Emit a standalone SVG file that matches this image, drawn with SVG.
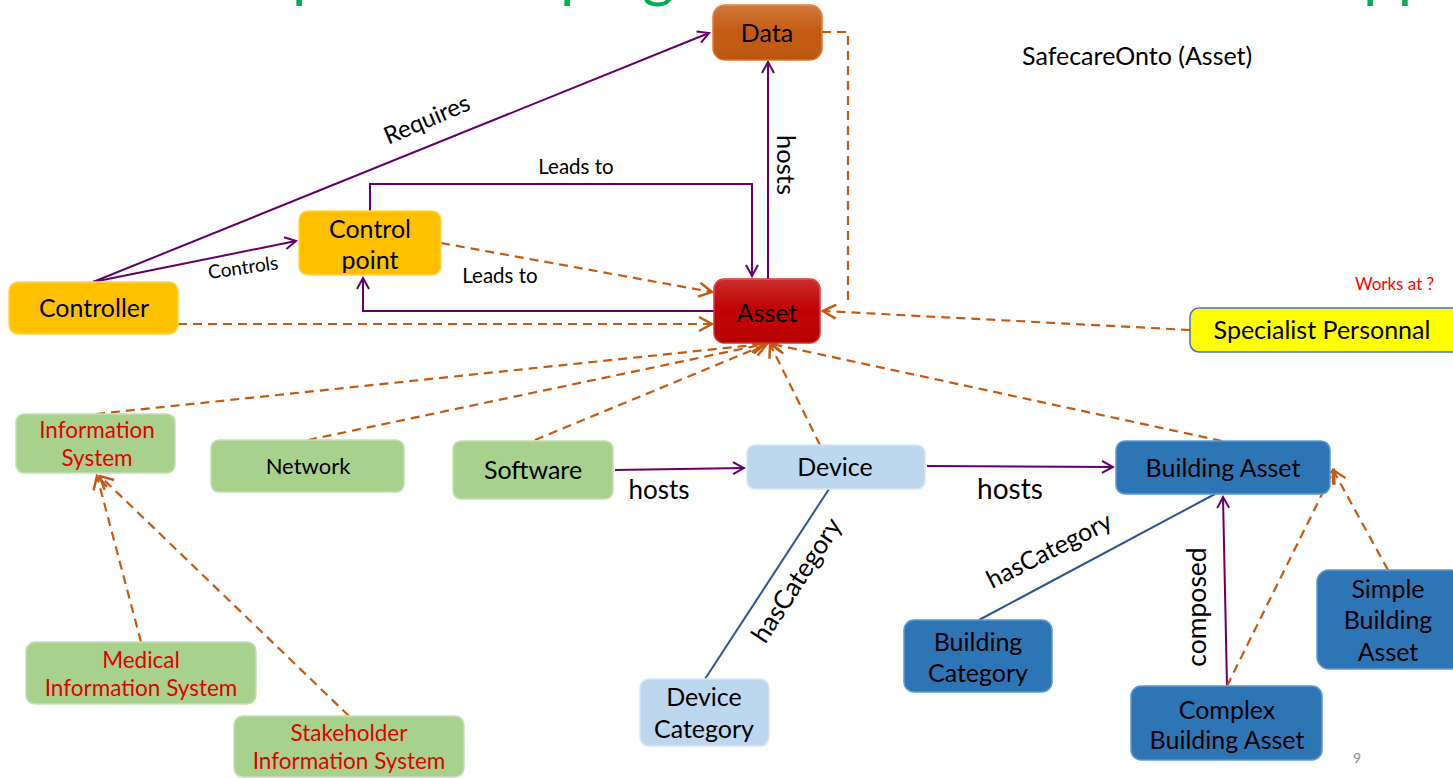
<svg xmlns="http://www.w3.org/2000/svg" width="1453" height="778" viewBox="0 0 1453 778">
  <defs>
    <marker id="arrPurple" markerWidth="14" markerHeight="14" refX="12" refY="7" orient="auto" markerUnits="userSpaceOnUse">
      <path d="M1,1 L12,7 L1,13" fill="none" stroke="#660066" stroke-width="2"/>
    </marker>
    <marker id="arrOrange" markerWidth="16" markerHeight="16" refX="14" refY="8" orient="auto" markerUnits="userSpaceOnUse">
      <path d="M1,1 L14,8 L1,15" fill="none" stroke="#C55A11" stroke-width="2.5"/>
    </marker>
    <linearGradient id="gloss" x1="0" y1="0" x2="0" y2="1">
      <stop offset="0" stop-color="#ffffff" stop-opacity="0.18"/>
      <stop offset="0.5" stop-color="#ffffff" stop-opacity="0"/>
      <stop offset="1" stop-color="#000000" stop-opacity="0.06"/>
    </linearGradient>
  </defs>
  <style>
    text { font-family: Lato, "Liberation Sans", sans-serif; }
    .node text { text-anchor: middle; font-size: 25px; fill: #000; }
    .red text { fill: #E00000; font-size: 22.5px; }
    .gold { fill: #FFC000; stroke: #FFD54F; stroke-width: 1.5; }
    .green { fill: #A9D18E; stroke: #C5E0B4; stroke-width: 1.5; }
    .lblue { fill: #BDD7EE; stroke: #D6E6F5; stroke-width: 1.5; }
    .blue { fill: #2E75B6; stroke: #5B9BD5; stroke-width: 1.5; }
    .purple { fill: none; stroke: #660066; stroke-width: 2; }
    .dash { fill: none; stroke: #C55A11; stroke-width: 2.2; stroke-dasharray: 9 6; }
    .cat { fill: none; stroke: #2F5597; stroke-width: 2; }
    .lbl { fill: #000; text-anchor: middle; }
  </style>

  <!-- title descenders at the top edge -->
  <g id="title" fill="#00B050" font-family="Liberation Serif, serif" font-size="62">
    <text x="292" y="-5">p</text>
    <text x="560" y="-5">p</text>
    <text x="642" y="-5">g</text>
    <text x="1363" y="-5">pp</text>
  </g>

  <!-- connectors -->
  <g id="connectors">
    <!-- purple relations -->
    <path class="purple" d="M93,282 L709,33" marker-end="url(#arrPurple)"/>
    <path class="purple" d="M93,282 L296,241" marker-end="url(#arrPurple)"/>
    <path class="purple" d="M370,211 L370,184 L752,184 L752,276" marker-end="url(#arrPurple)"/>
    <path class="purple" d="M768,279 L768,62" marker-end="url(#arrPurple)"/>
    <path class="purple" d="M714,311 L363,311 L363,278" marker-end="url(#arrPurple)"/>
    <path class="purple" d="M615,470 L744,468" marker-end="url(#arrPurple)"/>
    <path class="purple" d="M927,466 L1113,467" marker-end="url(#arrPurple)"/>
    <path class="purple" d="M1227,686 L1223,497" marker-end="url(#arrPurple)"/>

    <!-- category links -->
    <path class="cat" d="M829,489 L705,679"/>
    <path class="cat" d="M979,620 L1215,494"/>

    <!-- dashed subclass / association links -->
    <path class="dash" d="M822,32 L848,32 L848,306"/>
    <path class="dash" d="M1190,330 L823,311" marker-end="url(#arrOrange)"/>
    <path class="dash" d="M441,243 L712,292" marker-end="url(#arrOrange)"/>
    <path class="dash" d="M178,324 L712,324" marker-end="url(#arrOrange)"/>
    <path class="dash" d="M96,414 L764,344" marker-end="url(#arrOrange)"/>
    <path class="dash" d="M308,440 L765,344" marker-end="url(#arrOrange)"/>
    <path class="dash" d="M535,440 L767,344" marker-end="url(#arrOrange)"/>
    <path class="dash" d="M820,445 L770,344" marker-end="url(#arrOrange)"/>
    <path class="dash" d="M1222,441 L772,344" marker-end="url(#arrOrange)"/>
    <path class="dash" d="M141,642 L97,476" marker-end="url(#arrOrange)"/>
    <path class="dash" d="M349,716 L100,476" marker-end="url(#arrOrange)"/>
    <path class="dash" d="M1227,686 L1334,470" marker-end="url(#arrOrange)"/>
    <path class="dash" d="M1388,570 L1333,470" marker-end="url(#arrOrange)"/>

    <!-- connector labels -->
    <text class="lbl" transform="translate(430,127) rotate(-23)" font-size="24">Requires</text>
    <text class="lbl" transform="translate(244,274) rotate(-8)" font-size="19">Controls</text>
    <text class="lbl" x="576" y="174" font-size="20.5">Leads to</text>
    <text class="lbl" x="500" y="283" font-size="20.5">Leads to</text>
    <text class="lbl" transform="translate(777,165) rotate(90)" font-size="25.5">hosts</text>
    <text class="lbl" x="659" y="499" font-size="26">hosts</text>
    <text class="lbl" x="1010" y="499" font-size="28">hosts</text>
    <text class="lbl" transform="translate(804,585) rotate(-57)" font-size="26">hasCategory</text>
    <text class="lbl" transform="translate(1053,558) rotate(-27)" font-size="25">hasCategory</text>
    <text class="lbl" transform="translate(1206,607) rotate(-90)" font-size="26.5">composed</text>
  </g>

  <!-- nodes -->
  <g id="data" class="node">
    <rect x="713" y="5" width="109" height="55" rx="12" fill="#C55A11" stroke="#E07A30" stroke-width="1.5"/>
    <rect x="713" y="5" width="109" height="55" rx="12" fill="url(#gloss)"/>
    <text x="767" y="42">Data</text>
  </g>
  <g id="control-point" class="node">
    <rect class="gold" x="299" y="211" width="142" height="64" rx="9"/>
    <text x="370" y="238">Control</text>
    <text x="370" y="269">point</text>
  </g>
  <g id="controller" class="node">
    <rect class="gold" x="9" y="282" width="169" height="52" rx="9"/>
    <text x="94" y="317">Controller</text>
  </g>
  <g id="asset" class="node">
    <rect x="714" y="279" width="106" height="64" rx="10" fill="#C00000" stroke="#E03030" stroke-width="1.5"/>
    <rect x="714" y="279" width="106" height="64" rx="10" fill="url(#gloss)"/>
    <text x="767" y="322">Asset</text>
  </g>
  <g id="specialist-personnal" class="node">
    <rect x="1190" y="308" width="270" height="44" rx="9" fill="#FFFF00" stroke="#4472C4" stroke-width="1.5"/>
    <text x="1322" y="339">Specialist Personnal</text>
  </g>
  <g id="information-system" class="node red">
    <rect class="green" x="16" y="414" width="159" height="59" rx="8"/>
    <text x="97" y="438">Information</text>
    <text x="97" y="466">System</text>
  </g>
  <g id="network" class="node">
    <rect class="green" x="211" y="440" width="193" height="52" rx="8"/>
    <text x="308" y="474" style="font-size:22px">Network</text>
  </g>
  <g id="software" class="node">
    <rect class="green" x="453" y="441" width="160" height="58" rx="8"/>
    <text x="533" y="479">Software</text>
  </g>
  <g id="device" class="node">
    <rect class="lblue" x="747" y="445" width="178" height="44" rx="8"/>
    <text x="835" y="476">Device</text>
  </g>
  <g id="building-asset" class="node">
    <rect class="blue" x="1116" y="441" width="214" height="53" rx="9"/>
    <text x="1223" y="477">Building Asset</text>
  </g>
  <g id="device-category" class="node">
    <rect class="lblue" x="640" y="679" width="129" height="67" rx="9"/>
    <text x="704" y="706">Device</text>
    <text x="704" y="738">Category</text>
  </g>
  <g id="building-category" class="node">
    <rect class="blue" x="904" y="620" width="148" height="72" rx="10"/>
    <text x="978" y="651">Building</text>
    <text x="978" y="682">Category</text>
  </g>
  <g id="complex-building-asset" class="node">
    <rect class="blue" x="1131" y="686" width="191" height="74" rx="10"/>
    <text x="1227" y="719">Complex</text>
    <text x="1227" y="749">Building Asset</text>
  </g>
  <g id="simple-building-asset" class="node">
    <rect class="blue" x="1317" y="570" width="146" height="99" rx="12"/>
    <text x="1388" y="598">Simple</text>
    <text x="1388" y="629">Building</text>
    <text x="1388" y="661">Asset</text>
  </g>
  <g id="medical-information-system" class="node red">
    <rect class="green" x="26" y="642" width="230" height="62" rx="9"/>
    <text x="141" y="668">Medical</text>
    <text x="141" y="696">Information System</text>
  </g>
  <g id="stakeholder-information-system" class="node red">
    <rect class="green" x="234" y="716" width="230" height="61" rx="9"/>
    <text x="349" y="741">Stakeholder</text>
    <text x="349" y="769">Information System</text>
  </g>

  <!-- free text -->
  <text x="1022" y="65" font-size="25" fill="#000">SafecareOnto (Asset)</text>
  <text x="1355" y="290" font-size="17" fill="#FF0000">Works at ?</text>
  <text x="1353" y="763" font-size="14" fill="#8C8C8C">9</text>
</svg>
